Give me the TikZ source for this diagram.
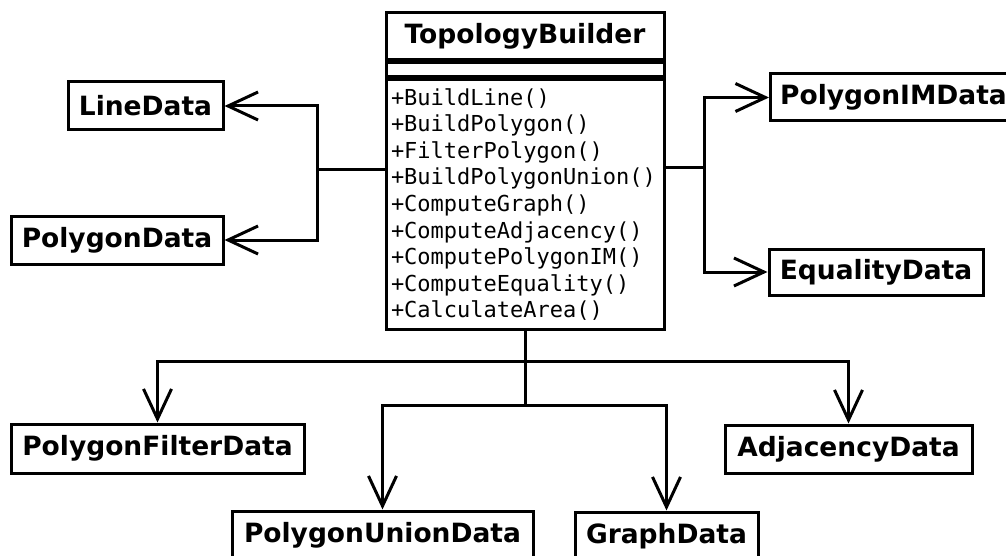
\documentclass[tikz,border=0pt]{standalone}
\usepackage{fontspec}
\usetikzlibrary{arrows.meta}
\newfontfamily\dvsans{DejaVu Sans}
\newfontfamily\dvmono{DejaVu Sans Mono}
\tikzset{
  classbox/.style={draw=black, line width=3pt, fill=white, inner sep=0pt,
    font=\dvsans\bfseries\fontsize{26.5}{31}\selectfont},
  methbox/.style={draw=black, line width=3pt, fill=white, inner xsep=5pt, inner ysep=0pt,
    align=left, text width=268pt, minimum width=278pt, minimum height=249pt,
    font=\dvmono\fontsize{22}{26.6}\selectfont},
  conn/.style={line width=3pt, draw=black},
  assoc/.style={conn, -{Straight Barb[length=30pt,width=28pt,line width=3pt]}},
}
\begin{document}
\begin{tikzpicture}[x=1pt,y=-1pt]
\useasboundingbox (0,0) rectangle (1006,556);
% TopologyBuilder class
\node[classbox, minimum width=278pt, minimum height=47pt] (title) at (525,36.5) {TopologyBuilder};
\node[classbox, minimum width=278pt, minimum height=14pt, anchor=north] (attr) at (title.south) {};
\node[methbox, anchor=north] (methods) at (attr.south) {+BuildLine()\\+BuildPolygon()\\+FilterPolygon()\\+BuildPolygonUnion()\\+ComputeGraph()\\+ComputeAdjacency()\\+ComputePolygonIM()\\+ComputeEquality()\\+CalculateArea()};
% data classes
\node[classbox, minimum width=155pt, minimum height=48pt] (line) at (145.5,106) {LineData};
\node[classbox, minimum width=212pt, minimum height=48pt] (poly) at (117,240) {PolygonData};
\node[classbox, minimum width=250pt, minimum height=47pt, anchor=west] (polyim) at (769,97.5) {\hspace*{-4pt}PolygonIMData};
\node[classbox, minimum width=214pt, minimum height=46pt] (equal) at (876,272) {EqualityData};
\node[classbox, minimum width=293pt, minimum height=49pt] (filter) at (157.5,448.5) {PolygonFilterData};
\node[classbox, minimum width=247pt, minimum height=48pt] (adj) at (848.5,449) {AdjacencyData};
\node[classbox, minimum width=301pt, minimum height=48pt] (union) at (382.5,535) {PolygonUnionData};
\node[classbox, minimum width=183pt, minimum height=48pt] (graph) at (666.5,536) {GraphData};
% junctions
\coordinate (lj) at (317,170);
\coordinate (rj) at (704,168);
\coordinate (b1) at (525,361);
\coordinate (b2) at (525,405);
% connectors
\draw[conn] (methods.west |- lj) -- (lj);
\draw[assoc] (lj) |- (line.east);
\draw[assoc] (lj) |- (poly.east);
\draw[conn] (methods.east |- rj) -- (rj);
\draw[assoc] (rj) |- (polyim.west);
\draw[assoc] (rj) |- (equal.west);
\draw[conn] (methods.south) -- (b2);
\draw[assoc] (b1) -| (filter.north);
\draw[assoc] (b1) -| (adj.north);
\draw[assoc] (b2) -| (union.north);
\draw[assoc] (b2) -| (graph.north);
\end{tikzpicture}
\end{document}
